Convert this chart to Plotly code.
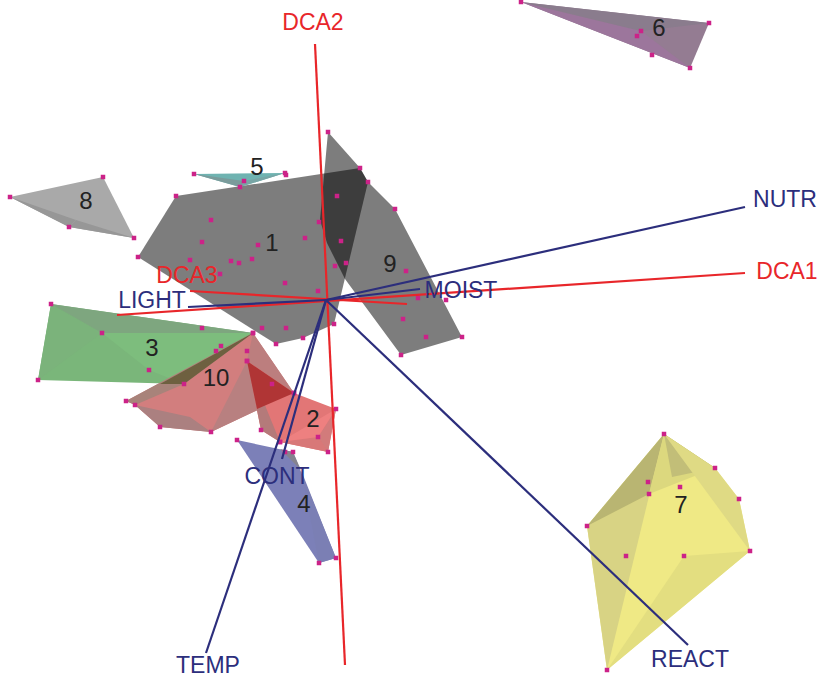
import plotly.graph_objects as go

W, H = 818, 679
CENTRE = (326, 300)

# sample scores per group (x, y in picture units)
pts_1 = [(176,196),(138,257),(276,344),(303,338),(334,324),(360,168),(211,220),(202,242),(190,260),(231,261),(239,263),(252,259),(258,245),(220,274),(285,283),(318,291),(305,238),(319,222),(262,328),(286,328)]
pts_2 = [(247,361),(294,393),(336,409),(328,452),(280,442),(261,430),(318,437)]
pts_3 = [(51,304),(38,380),(184,384),(253,333),(102,333),(202,328),(149,370),(216,351),(221,346)]
pts_4 = [(237,440),(336,558),(319,563),(285,452),(293,452),(280,442)]
pts_5 = [(194,174),(285,173),(286,175),(244,181),(240,187)]
pts_6 = [(521,2),(709,23),(690,68),(652,55),(637,36),(641,31)]
pts_7 = [(664,434),(715,468),(739,499),(750,551),(607,670),(587,526),(648,482),(649,494),(680,487),(626,556),(684,556)]
pts_8 = [(10,197),(103,177),(134,238),(69,227)]
pts_9 = [(328,132),(368,182),(395,209),(462,337),(401,355),(337,196),(341,241),(335,266),(346,263),(406,271),(418,298),(446,300),(403,319),(426,337)]
pts_10 = [(253,333),(126,401),(135,405),(160,427),(211,432),(294,393),(247,351),(247,361),(272,384)]

# hull facets per group
faces_1 = [[(176,196),(138,257),(276,344),(303,338),(334,324),(345,279),(368,182),(360,168)]]
faces_9 = [[(328,132),(360,168),(368,182),(395,209),(462,337),(401,355),(345,279),(327,243),(320,220)]]
faces_3 = [[(51,304),(38,380),(184,384),(253,333)],
           [(51,304),(102,333),(38,380)],
           [(51,304),(253,333),(102,333)],
           [(102,333),(253,333),(216,351),(184,384),(149,370)]]
faces_10 = [[(253,333),(126,401),(135,405),(160,427),(211,432),(294,393)],
            [(211,432),(247,361),(294,393)],
            [(253,333),(294,393),(247,361)],
            [(135,405),(160,427),(211,432),(190,417)],
            [(253,333),(126,401),(135,405),(184,384)]]
faces_overlap_3_10 = [[(253,333),(184,384),(160,384)]]
faces_2 = [[(247,361),(294,393),(336,409),(328,452),(280,442),(261,430)],
           [(247,361),(261,430),(280,442)],
           [(336,409),(328,452),(318,437)],
           [(280,442),(328,452),(318,437)],
           [(280,442),(318,437),(336,409)]]
faces_overlap_2_10 = [[(247,361),(294,393),(257,409)],[(247,361),(257,409),(252,385)]]
faces_4 = [[(237,440),(280,449),(293,452),(336,558),(319,563)],
           [(280,449),(293,452),(301,470)],
           [(301,470),(336,558),(319,563)]]
faces_5 = [[(194,174),(285,173),(240,187)],
           [(194,174),(244,181),(240,187)],
           [(244,181),(285,173),(240,187)]]
faces_6 = [[(521,2),(709,23),(690,68)],
           [(521,2),(641,31),(690,68)],
           [(521,2),(709,23),(641,31)]]
faces_7 = [[(664,434),(715,468),(739,499),(750,551),(607,670),(587,526)],
           [(664,434),(587,526),(607,670)],
           [(664,434),(587,526),(649,494)],
           [(664,434),(649,494),(715,468)],
           [(664,434),(672,477),(715,468)],
           [(664,434),(715,468),(739,499),(750,551)],
           [(607,670),(684,556),(750,551)]]
faces_8 = [[(10,197),(103,177),(134,238),(69,227)],
           [(10,197),(76,220),(69,227)],
           [(69,227),(76,220),(134,238)]]

# group labels
group_labels = ["1","2","3","4","5","6","7","8","9","10"]
group_label_x = [272,313,152,304,257,659,681,86,390,216]
group_label_y = [245,421,350,506,169,30,507,203,266,380]

# axes and environmental vectors
dca_names = ["DCA1","DCA2","DCA3"]
dca_from = [(117,315),(315,44),(190,291)]
dca_to = [(745,273),(345,665),(407,304)]
dca_label_x = [787,313,187]
dca_label_y = [273,24,277]
env_names = ["NUTR","MOIST","LIGHT","REACT","TEMP","CONT"]
env_to = [(745,207),(420,289),(188,307),(688,645),(206,653),(282,459)]
env_label_x = [785,461,152,690,208,277]
env_label_y = [201,292,302,661,667,478]

RED = "#e8262a"
NAVY = "#2c2e7c"
MARK = "#cc2288"
FONT = "Liberation Sans"

fig = go.Figure()

def add_faces(faces, colors):
    for f, c in zip(faces, colors):
        xs = [p[0] for p in f] + [f[0][0]]
        ys = [p[1] for p in f] + [f[0][1]]
        fig.add_trace(go.Scatter(x=xs, y=ys, mode="lines", fill="toself", fillcolor=c,
                                 line=dict(width=0, color=c), hoverinfo="skip", showlegend=False))

add_faces(faces_1, ["rgba(0,0,0,0.51)"])
add_faces(faces_9, ["rgba(0,0,0,0.51)"])
add_faces(faces_3, ["#7ab67a", "#7bb37b", "#7ea67f", "#7dbd7d"])
add_faces(faces_10, ["#d27e7e", "#b88080", "#bc7e7e", "#ab8080", "#a8837a"])
add_faces(faces_overlap_3_10, ["#6e6040"])
add_faces(faces_2, ["#e27676", "#b47a7a", "#d27b7b", "#d87878", "#ee8080"])
add_faces(faces_overlap_2_10, ["#b03535", "#8c3030"])
add_faces(faces_4, ["#7c80b8", "#85838f", "#7b7fb4"])
add_faces(faces_5, ["#6fb3b1", "#7a9b9b", "#78a5a5"])
add_faces(faces_6, ["#947c92", "#9c769c", "#8a7c8d"])
add_faces(faces_7, ["#efe985", "#d8d384", "#b9b572", "#dcd87e", "#c2be78", "#dfda84", "#e3de80"])
add_faces(faces_8, ["#a9a9a9", "#979797", "#979797"])

all_pts = pts_1 + pts_2 + pts_3 + pts_4 + pts_5 + pts_6 + pts_7 + pts_8 + pts_9 + pts_10
fig.add_trace(go.Scatter(x=[p[0] for p in all_pts], y=[p[1] for p in all_pts], mode="markers",
                         marker=dict(symbol="square", size=4.5, color=MARK), showlegend=False))

for a, b in zip(dca_from, dca_to):
    fig.add_trace(go.Scatter(x=[a[0], b[0]], y=[a[1], b[1]], mode="lines",
                             line=dict(color=RED, width=2.2), showlegend=False))
for b in env_to:
    fig.add_trace(go.Scatter(x=[CENTRE[0], b[0]], y=[CENTRE[1], b[1]], mode="lines",
                             line=dict(color=NAVY, width=2.2), showlegend=False))

fig.add_trace(go.Scatter(x=group_label_x, y=group_label_y, text=group_labels, mode="text",
                         textposition="middle center", textfont=dict(family=FONT, size=24, color="#222222"),
                         showlegend=False))
fig.add_trace(go.Scatter(x=dca_label_x, y=dca_label_y, text=dca_names, mode="text",
                         textposition="middle center", textfont=dict(family=FONT, size=23, color=RED),
                         showlegend=False))
fig.add_trace(go.Scatter(x=env_label_x, y=env_label_y, text=env_names, mode="text",
                         textposition="middle center", textfont=dict(family=FONT, size=23, color=NAVY),
                         showlegend=False))

fig.update_layout(width=W, height=H, margin=dict(l=0, r=0, t=0, b=0), autosize=False,
                  paper_bgcolor="white", plot_bgcolor="white", showlegend=False,
                  xaxis=dict(range=[0, W], visible=False, fixedrange=True),
                  yaxis=dict(range=[H, 0], visible=False, fixedrange=True))
fig.write_html("out.html", config={"displayModeBar": False},
               post_script="document.body.style.margin='0';document.documentElement.style.overflow='hidden';")
